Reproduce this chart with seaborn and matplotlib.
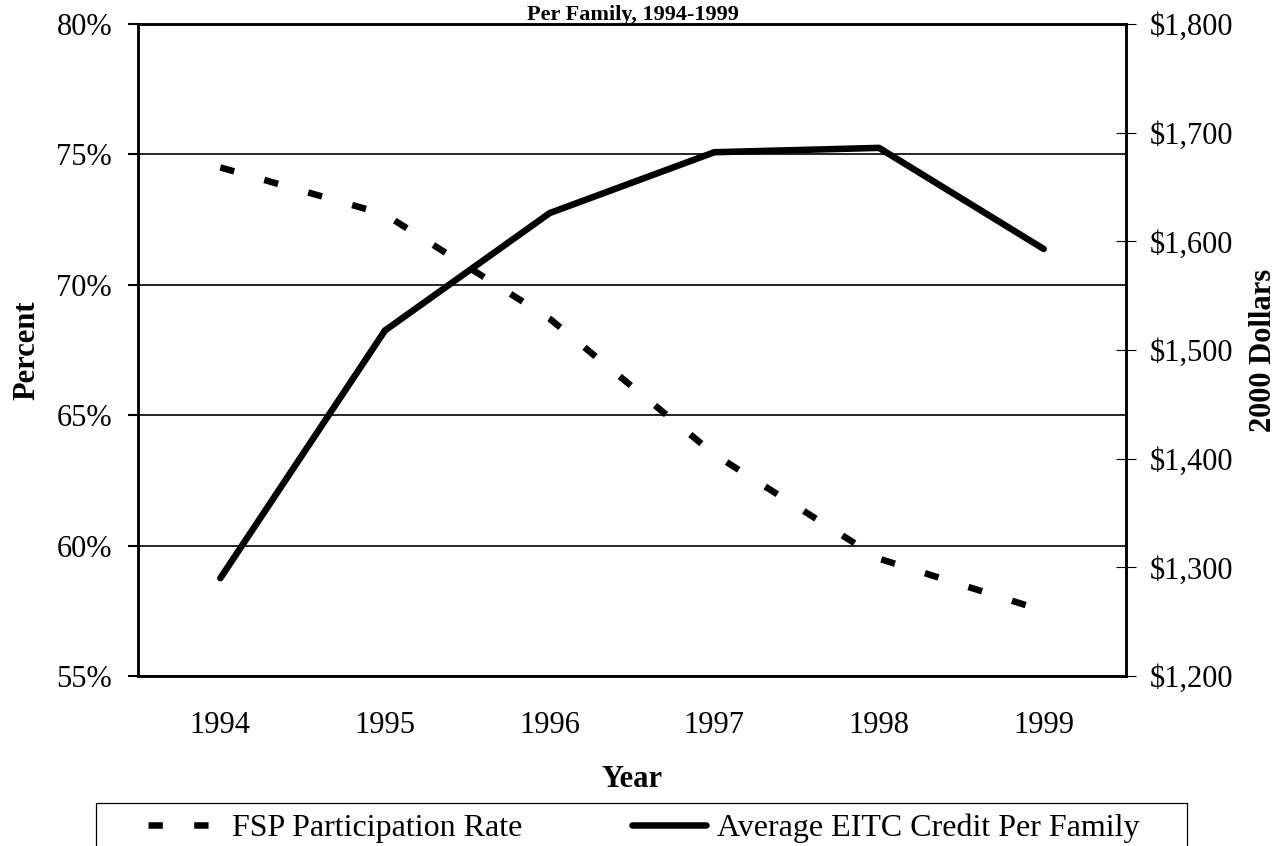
import matplotlib
matplotlib.use("Agg")
import matplotlib.pyplot as plt
from matplotlib.lines import Line2D
import seaborn as sns

# data
years = [1994, 1995, 1996, 1997, 1998, 1999]
fsp_rate = [74.5, 72.7, 68.7, 63.5, 59.5, 57.5]          # percent
eitc_credit = [1290, 1518, 1626, 1682, 1686, 1593]      # 2000 dollars
pct_ticks = [55, 60, 65, 70, 75, 80]
dollar_ticks = [1200, 1300, 1400, 1500, 1600, 1700, 1800]

sns.set_style("white")
plt.rcParams['font.family'] = ['Liberation Serif', 'DejaVu Serif']
plt.rcParams.update({'text.color': 'black', 'axes.labelcolor': 'black',
                     'xtick.color': 'black', 'ytick.color': 'black'})
FS = 22

W, H = 1281, 846
fig = plt.figure(figsize=(W / 100, H / 100), dpi=100)
ax = fig.add_axes([138 / W, (H - 676) / H, (1126 - 138) / W, (676 - 24) / H])
ax2 = ax.twinx()

lw = 4.7
sns.lineplot(x=years, y=fsp_rate, ax=ax, color='black', linewidth=lw,
             linestyle=(0, (2.2, 4.8)), dash_capstyle='butt',
             label='FSP Participation Rate', legend=False)
sns.lineplot(x=years, y=eitc_credit, ax=ax2, color='black', linewidth=lw,
             solid_capstyle='round', solid_joinstyle='round',
             label='Average EITC Credit Per Family', legend=False)

# x axis: ticks between categories, labels at the years
edges = [y - 0.5 for y in years] + [years[-1] + 0.5]
ax.set_xlim(edges[0], edges[-1])
ax.set_xticks(edges)
ax.set_xticklabels([''] * len(edges))
ax.set_xticks(years, minor=True)
ax.set_xticklabels([str(y) for y in years], minor=True, fontsize=FS)
ax.tick_params(axis='x', which='major', direction='out', length=7.2, width=0.8, color='black')
ax.tick_params(axis='x', which='minor', length=0, pad=25.5)

# left axis
ax.set_ylim(pct_ticks[0], pct_ticks[-1])
ax.set_yticks(pct_ticks)
ax.set_yticklabels([f"{v}%" for v in pct_ticks], fontsize=FS)
ax.tick_params(axis='y', direction='out', length=7.2, width=1.5, pad=11.5, color='black', left=True)
ax.grid(axis='y', color='black', linewidth=1.2)
ax.grid(axis='x', visible=False)
ax.set_axisbelow(True)

# right axis
ax2.set_ylim(dollar_ticks[0], dollar_ticks[-1])
ax2.set_yticks(dollar_ticks)
ax2.set_yticklabels([f"${v:,}" for v in dollar_ticks], fontsize=FS)
ax2.tick_params(axis='y', direction='inout', length=14.4, width=0.8, pad=10.1, color='black', right=True)
ax2.grid(False)

for a in (ax, ax2):
    for s in a.spines.values():
        s.set_visible(True)
        s.set_color('black')
        s.set_linewidth(1.8)

ax.set_xlabel('Year', fontsize=FS, fontweight='bold')
ax.xaxis.set_label_coords(0.5, -0.136)
ax.set_ylabel('Percent', fontsize=FS, fontweight='bold')
ax.yaxis.set_label_coords(-0.098, 0.5)
ax2.set_ylabel('2000 Dollars', fontsize=FS, fontweight='bold')
ax2.yaxis.set_label_coords(1.124, 0.5)

fig.text(632.5 / W, 1 - 20 / H, 'Per Family, 1994-1999', ha='center', va='baseline',
         fontsize=16, fontweight='bold')

# legend below the plot, box cut off by the bottom edge
h1 = ax.get_lines()[0]
h2 = ax2.get_lines()[0]
fig.legend([h1], [h1.get_label()], loc='center left', bbox_to_anchor=(148 / W, 1 - 828 / H),
           frameon=False, fontsize=23, borderpad=0, borderaxespad=0,
           handlelength=1.92, handletextpad=0.7)
fig.legend([h2], [h2.get_label()], loc='center left', bbox_to_anchor=(632 / W, 1 - 828 / H),
           frameon=False, fontsize=23, borderpad=0, borderaxespad=0,
           handlelength=2.32, handletextpad=0.34)
fig.add_artist(Line2D([96 / W, 96 / W, 1187 / W, 1187 / W], [0, 1 - 803 / H, 1 - 803 / H, 0],
                      transform=fig.transFigure, color='black', linewidth=0.9))

fig.savefig('out.png', dpi=100)
